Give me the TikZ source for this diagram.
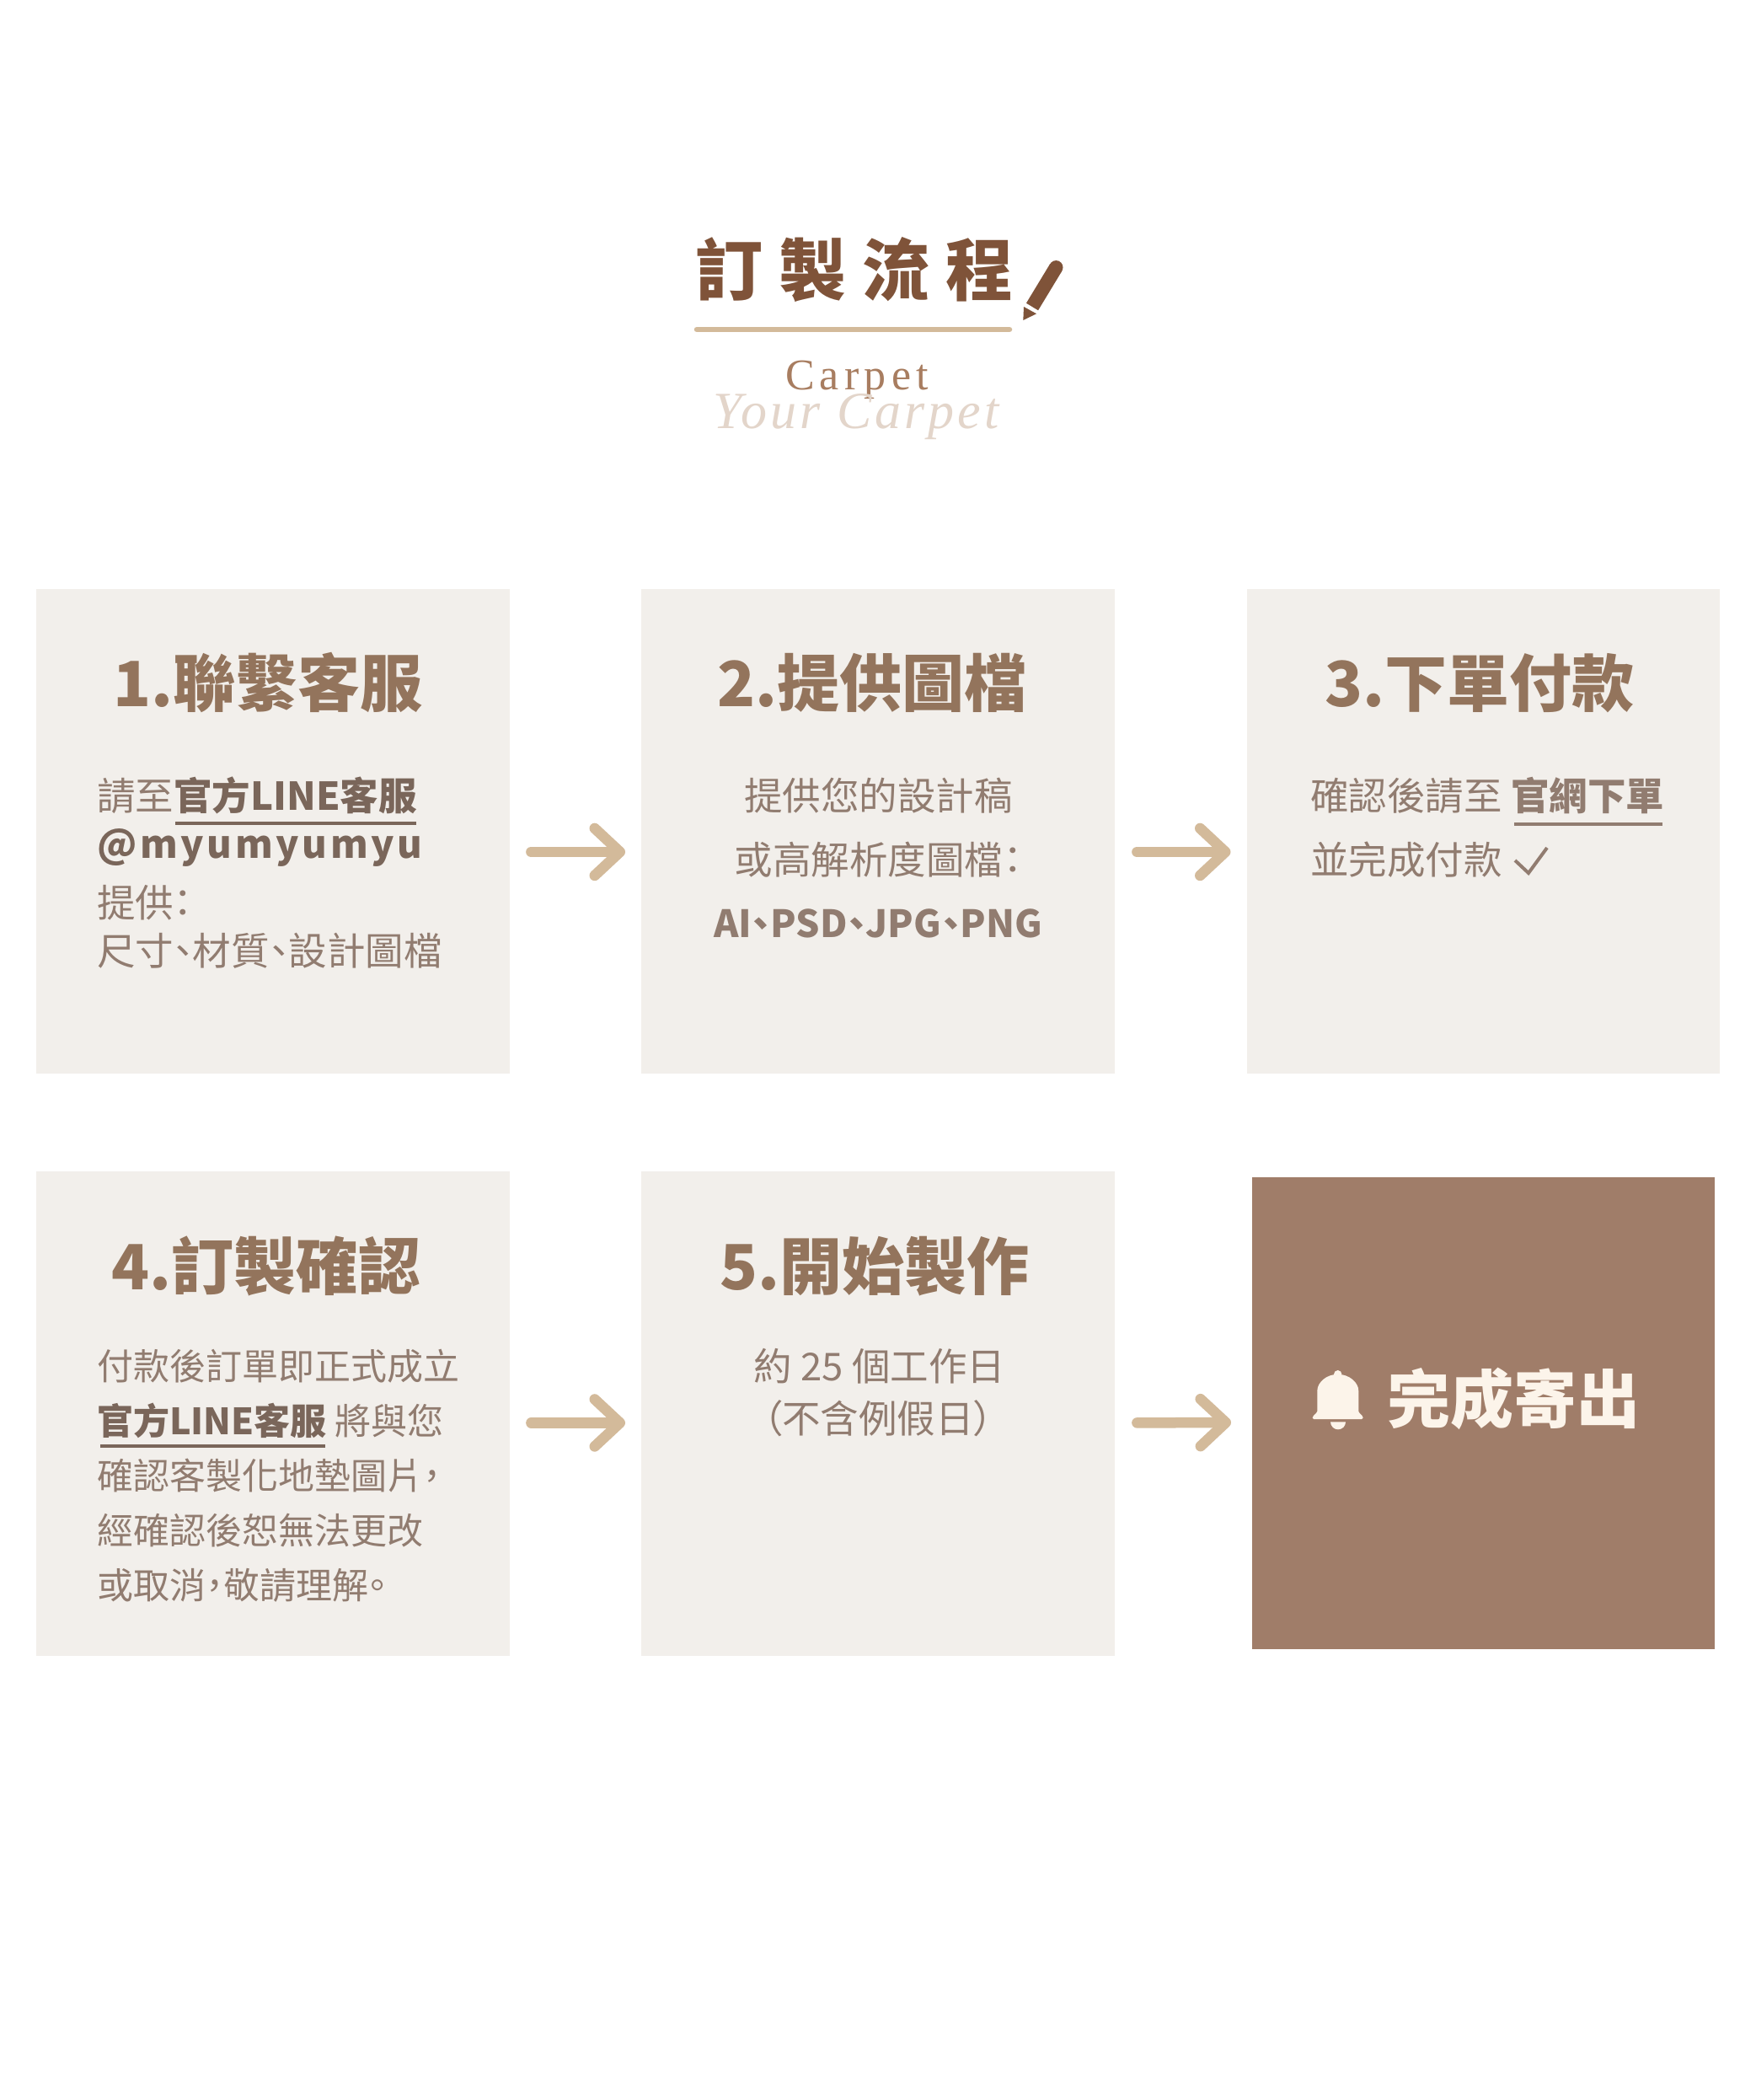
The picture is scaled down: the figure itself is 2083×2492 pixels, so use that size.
\documentclass[tikz,border=0pt]{standalone}
\usepackage{fontspec}
\usetikzlibrary{arrows.meta}
\setmainfont{Noto Sans CJK TC}[RawFeature=+palt]
\newfontfamily\serifcarpet{Liberation Serif}[LetterSpace=12]
\newfontfamily\scriptcarpet{Liberation Serif}[LetterSpace=6.5]
\definecolor{boxbg}{HTML}{F2EFEB}
\definecolor{donebg}{HTML}{A07D69}
\definecolor{donefg}{HTML}{FCF4EA}
\definecolor{tanc}{HTML}{D3BA9A}
\definecolor{titlec}{HTML}{7F5339}
\definecolor{headc}{HTML}{93745C}
\definecolor{bodyc}{HTML}{917C70}
\definecolor{strongc}{HTML}{7A665A}
\definecolor{carpetc}{HTML}{A87D60}
\definecolor{scriptc}{HTML}{E3D5CA}
\newcommand{\sz}[1]{\fontsize{#1}{#1}\selectfont}
\tikzset{
  stepbox/.style={draw=none,fill=boxbg,minimum width=561.5pt,minimum height=574.5pt,anchor=north west,inner sep=0},
  headtxt/.style={anchor=base,inner sep=0,text=headc,font=\sz{74}\bfseries},
  bodyl/.style={anchor=base west,inner sep=0,text=bodyc,font=\sz{45.5}},
  bodys/.style={anchor=base west,inner sep=0,text=bodyc,font=\sz{43}},
  bodyctr/.style={anchor=base,inner sep=0,text=bodyc,font=\sz{45.5}},
  flow/.style={draw=tanc,line width=12.5pt,line cap=round,-{Straight Barb[length=30pt,width=56pt,round,line width=12.5pt]}},
  uline/.style={draw=strongc,line width=3.5pt},
}
\newcommand{\strongtxt}[1]{{\bfseries\color{strongc}#1}}
\begin{document}
\begin{tikzpicture}[x=1pt,y=-1pt]
\useasboundingbox (0,0) rectangle (2083,2492);
\fill[white] (0,0) rectangle (2083,2492);

% title
\node[anchor=base west,inner sep=0,text=titlec,font=\sz{80}\bfseries\addfontfeature{LetterSpace=24}] (title) at (825,350) {訂製流程};
\draw[tanc,line width=6.5pt,line cap=round] (827,391) -- (1198,391);
\fill[titlec] (1253.3,317.3) circle (8.2pt);
\draw[titlec,line width=16.5pt] (1253.3,317.3) -- (1225,364);
\fill[titlec] (1215,364) -- (1230,372.3) -- (1214.3,380) -- cycle;
\node[anchor=base,inner sep=0,text=carpetc,font=\sz{52}\serifcarpet] (carpet) at (1017,462) {Carpet};
\node[anchor=base,inner sep=0,text=scriptc,font=\sz{62}\scriptcarpet\itshape] (script) at (1016,508) {Your Carpet};

% boxes
\node[stepbox] (b1) at (43,699) {};
\node[stepbox] (b2) at (761,699) {};
\node[stepbox] (b3) at (1479.5,699) {};
\node[stepbox] (b4) at (43,1390) {};
\node[stepbox] (b5) at (761,1390) {};
\node[draw=none,fill=donebg,minimum width=548.5pt,minimum height=559.5pt,anchor=north west,inner sep=0] (b6) at (1486,1397) {};

% arrows
\draw[flow,shorten <=25.5pt,shorten >=19pt] ([yshift=-24.5pt]b1.east) -- ([yshift=-24.5pt]b2.west);
\draw[flow,shorten <=26.5pt,shorten >=19pt] ([yshift=-24.5pt]b2.east) -- ([yshift=-24.5pt]b3.west);
\draw[flow,shorten <=25.5pt,shorten >=19pt] ([yshift=-11pt]b4.east) -- ([yshift=-11pt]b5.west);
\draw[flow,shorten <=26.5pt,shorten >=25pt] ([yshift=-11pt]b5.east) -- ([yshift=-11pt]b6.west);

% step 1
\node[headtxt] (h1) at (318,838.5) {1.聯繫客服};
\node[bodyl] (t11) at (115,961) {請至\strongtxt{官方LINE客服}};
\draw[uline] (208,977) -- (494,977);
\node[bodyl,font=\sz{45.5}\bfseries\addfontfeature{LetterSpace=8},text=strongc] (t12) at (115,1018) {@myumyumyu};
\node[bodyl] (t13) at (115,1088) {提供：};
\node[bodyl] (t14) at (115,1145) {尺寸、材質、設計圖檔};

% step 2
\node[headtxt] (h2) at (1035,838.5) {2.提供圖檔};
\node[bodyctr] (t21) at (1042.5,961) {提供您的設計稿};
\node[bodyctr] (t22) at (1042.5,1037) {或高解析度圖檔：};
\node[bodyctr,font=\sz{44.6}\bfseries] (t23) at (1042,1112) {AI、PSD、JPG、PNG};

% step 3
\node[headtxt] (h3) at (1756,838.5) {3.下單付款};
\node[bodyl] (t31) at (1555,961) {確認後請至};
\node[bodyl,font=\sz{45.5}\bfseries] (t32) at (1793,961) {官網下單};
\draw[draw=bodyc,line width=3.5pt] (1797,978) -- (1973,978);
\node[bodyl] (t33) at (1555,1037) {並完成付款};
\draw[draw=bodyc,line width=4pt] (1798,1021) -- (1814,1036) -- (1836,1006);

% step 4
\node[headtxt] (h4) at (316,1530.5) {4.訂製確認};
\node[bodys] (t41) at (115,1637) {付款後訂單即正式成立};
\node[bodys] (t42) at (115,1702) {\strongtxt{官方LINE客服} 將與您};
\draw[uline] (119,1716) -- (386,1716);
\node[bodys] (t43) at (115,1767) {確認客製化地墊圖片，};
\node[bodys] (t44) at (115,1832) {經確認後恕無法更改};
\node[bodys] (t45) at (115,1897) {或取消，敬請理解。};

% step 5
\node[headtxt] (h5) at (1038,1530.5) {5.開始製作};
\node[bodyctr] (t51) at (1044,1638) {約 25 個工作日};
\node[bodyctr] (t52) at (1042,1700) {（不含例假日）};

% done
\fill[donefg] (1587.7,1630.7) circle (4.7pt);
\fill[donefg,rounded corners=1.5pt] (1557.7,1684) -- (1557.7,1681) .. controls (1561,1678) and (1563.3,1676) .. (1563.3,1673.3) -- (1563.3,1652) .. controls (1563.3,1640) and (1575,1631) .. (1587.7,1631) .. controls (1600.4,1631) and (1612.3,1640) .. (1612.3,1652) -- (1612.3,1673.3) .. controls (1612.3,1676) and (1614.5,1678) .. (1617.7,1681) -- (1617.7,1684) -- cycle;
\fill[donefg] (1579,1687.3) arc[start angle=180,end angle=360,radius=9pt] -- cycle;
\node[anchor=base west,inner sep=0,text=donefg,font=\sz{75}\bfseries] (done) at (1646,1688) {完成寄出};
\end{tikzpicture}
\end{document}
